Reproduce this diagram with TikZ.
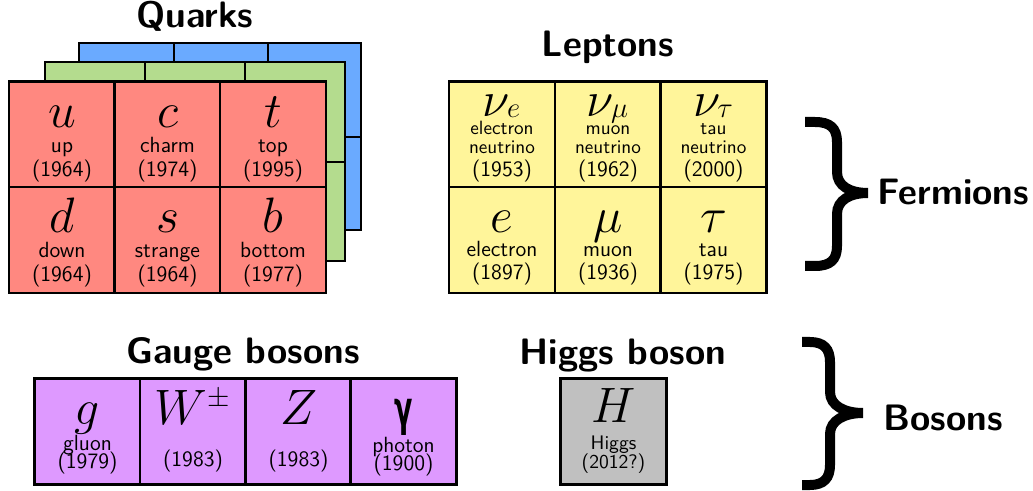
\documentclass[tikz,border=0pt]{standalone}
\usepackage{fontspec}
\renewcommand{\familydefault}{\sfdefault}
\newfontfamily\gammafont{DejaVu Sans}
\usepackage{xcolor}
\usepackage{amsmath}
\DeclareMathSizes{24.88}{24.88}{14.4}{10}

\definecolor{quarkred}{HTML}{FF8880}
\definecolor{quarkgreen}{HTML}{B4DC8E}
\definecolor{quarkblue}{HTML}{6AAAFF}
\definecolor{leptonyellow}{HTML}{FFF59A}
\definecolor{gaugepurple}{HTML}{DE99FF}
\definecolor{higgsgray}{HTML}{C0C0C0}

\newcommand{\partsym}[2][23.5pt]{\rule{0pt}{#1}{\Huge$#2$}}
\newcommand{\nusub}[1]{_{\raisebox{3pt}{$\scriptstyle #1$}}}
\newcommand{\smalltxt}{\fontsize{9.6}{12}\selectfont}

\begin{document}
\begin{tikzpicture}[x=0.5pt, y=-0.5pt,
    cell/.style={draw, line width=1.4pt, minimum width=53pt, minimum height=53pt, inner sep=0pt},
    txt/.style={anchor=north, align=center, inner sep=0pt, font=\fontsize{11}{12}\selectfont},
    ttl/.style={anchor=base, inner sep=0pt, font=\fontsize{18.4}{20}\selectfont\bfseries},
    layer/.style={line width=1.4pt},
    brace/.style={line width=5pt}
]
    \useasboundingbox (0,0) rectangle (1033,491);

    % quarks: two generations of colour behind
    \filldraw[layer, fill=quarkblue] (79,43) rectangle (361,230);
    \draw[layer] (174,43) -- (174,230) (268,43) -- (268,230) (79,137) -- (361,137);
    \filldraw[layer, fill=quarkgreen] (45,62) rectangle (345,261);
    \draw[layer] (145,62) -- (145,261) (245,62) -- (245,261) (45,162) -- (345,162);

    \node[cell, fill=quarkred, label={[txt]north:{\partsym{u}\\[0.5pt]up\\(1964)}}]      (u) at (62,134.5) {};
    \node[cell, fill=quarkred, label={[txt]north:{\partsym{c}\\[0.5pt]charm\\(1974)}}]   (c) at (167.5,134.5) {};
    \node[cell, fill=quarkred, label={[txt]north:{\partsym{t}\\[0.5pt]top\\(1995)}}]     (t) at (273,134.5) {};
    \node[cell, fill=quarkred, label={[txt]north:{\partsym{d}\\[0.5pt]down\\(1964)}}]    (d) at (62,240) {};
    \node[cell, fill=quarkred, label={[txt]north:{\partsym{s}\\[0.5pt]strange\\(1964)}}] (s) at (167.5,240) {};
    \node[cell, fill=quarkred, label={[txt]north:{\partsym{b}\\[0.5pt]bottom\\(1977)}}]  (b) at (273,240) {};
    \node[ttl] (quarks) at (195,28) {Quarks};

    % leptons
    \node[cell, fill=leptonyellow, label={[txt]north:{\partsym[18pt]{\nu\nusub{e}}\\[-3pt]{\smalltxt electron}\\[-2.5pt]{\smalltxt neutrino}\\[-0.5pt](1953)}}] (nue) at (502,134.5) {};
    \node[cell, fill=leptonyellow, label={[txt]north:{\partsym[18pt]{\nu\nusub{\mu}}\\[-3pt]{\smalltxt muon}\\[-2.5pt]{\smalltxt neutrino}\\[-0.5pt](1962)}}] (numu) at (608,134.5) {};
    \node[cell, fill=leptonyellow, label={[txt]north:{\partsym[18pt]{\nu\nusub{\tau}}\\[-3pt]{\smalltxt tau}\\[-2.5pt]{\smalltxt neutrino}\\[-0.5pt](2000)}}] (nutau) at (713.5,134.5) {};
    \node[cell, fill=leptonyellow, label={[txt]north:{\partsym{e}\\electron\\[-0.5pt](1897)}}]   (e) at (502,240) {};
    \node[cell, fill=leptonyellow, label={[txt]north:{\partsym{\mu}\\muon\\[-0.5pt](1936)}}]     (mu) at (608,240) {};
    \node[cell, fill=leptonyellow, label={[txt]north:{\partsym{\tau}\\tau\\[-0.5pt](1975)}}]     (tau) at (713.5,240) {};
    \node[ttl] (leptons) at (608,57) {Leptons};

    % gauge bosons
    \node[cell, fill=gaugepurple, label={[txt]north:{\partsym{g}\\[-0.5pt]gluon\\[-3pt](1979)}}] (g) at (87.5,431.5) {};
    \node[cell, fill=gaugepurple, label={[txt]north:{\partsym{W^\pm}\\[9pt](1983)}}]           (W) at (193,431.5) {};
    \node[cell, fill=gaugepurple, label={[txt]north:{\partsym{Z}\\[9pt](1983)}}]               (Z) at (298.5,431.5) {};
    \node[cell, fill=gaugepurple, label={[txt]north:{\rule{0pt}{23.5pt}\raisebox{-0.5pt}{\gammafont\bfseries\fontsize{24}{24}\selectfont\scalebox{0.56}[1]{γ}}\\photon\\[-3pt](1900)}}] (gamma) at (403.5,431.5) {};
    \node[ttl] (gauge) at (243,364) {Gauge bosons};

    % higgs
    \node[cell, fill=higgsgray, label={[txt, font=\fontsize{9.8}{12}\selectfont]north:{\partsym[22.5pt]{H}\\[1.5pt]Higgs\\[-2.5pt](2012?)}}] (H) at (613.5,431.5) {};
    \node[ttl] (higgs) at (623,365) {Higgs boson};

    % braces
    \draw[brace] (805,122) -- (815,122) .. controls (830,122) and (837,128) .. (837,142) -- (837,172)
        .. controls (837,186) and (850,193) .. (868,193) .. controls (850,193) and (837,200) .. (837,214)
        -- (837,246) .. controls (837,260) and (830,266) .. (815,266) -- (805,266);
    \node[ttl, anchor=base west] (fermions) at (877,205) {Fermions};
    \draw[brace] (802,342) -- (810,342) .. controls (824,342) and (830,349) .. (830,362) -- (830,392)
        .. controls (830,406) and (845,413) .. (863,413) .. controls (845,413) and (830,420) .. (830,434)
        -- (830,465) .. controls (830,478) and (824,485) .. (810,485) -- (802,485);
    \node[ttl, anchor=base west] (bosons) at (883,430) {Bosons};
\end{tikzpicture}
\end{document}
